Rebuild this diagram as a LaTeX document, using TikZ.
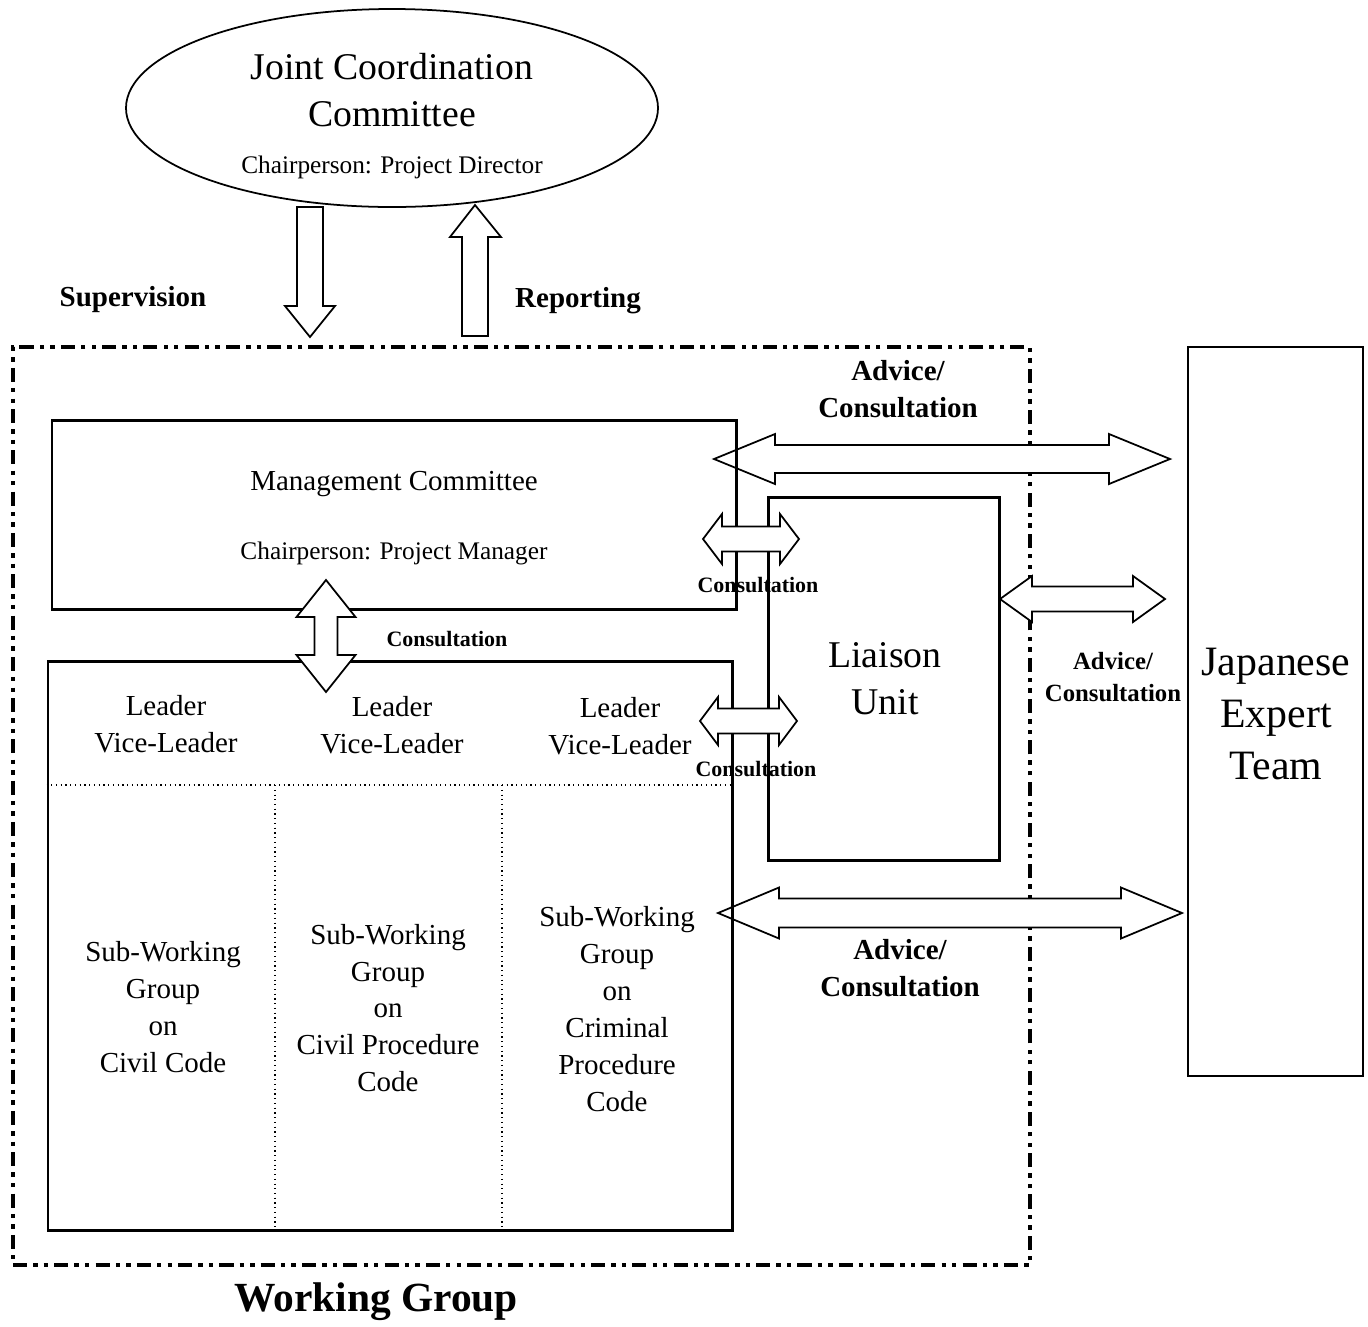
\documentclass[tikz,border=0pt]{standalone}
\usepackage{fontspec}
\setmainfont{Liberation Serif}
\usetikzlibrary{shapes.geometric}

\newcommand{\pxu}{0.02cm}

\tikzset{
  box/.style={draw, line width=1.7pt, inner sep=0pt},
  thinbox/.style={draw, line width=1pt, inner sep=0pt},
  outerline/.style={draw, line width=2pt, inner sep=0pt,
    dash pattern=on 8pt off 3.5pt on 2.5pt off 3.5pt on 2.5pt off 3.5pt},
  blockarrow/.style={draw, fill=white, line width=1pt, line join=miter},
  divider/.style={line width=0.7pt, dotted},
  bigtext/.style={font=\fontsize{21.5}{26.6}\selectfont, align=center},
  bodytext/.style={font=\fontsize{16.5}{21}\selectfont, align=center},
  chairtext/.style={font=\fontsize{14.4}{17}\selectfont},
  boldtag/.style={font=\bfseries\fontsize{16.5}{21}\selectfont, align=center},
  smalltag/.style={font=\bfseries\fontsize{12.5}{15}\selectfont, align=center},
}

% horizontal double block arrow: left x, right x, y, half shaft, half head, head length
\newcommand{\dblharrow}[6]{%
  \draw[blockarrow] (#1,#3) -- ({#1+#6},{#3-#5}) -- ({#1+#6},{#3-#4})
    -- ({#2-#6},{#3-#4}) -- ({#2-#6},{#3-#5}) -- (#2,#3)
    -- ({#2-#6},{#3+#5}) -- ({#2-#6},{#3+#4}) -- ({#1+#6},{#3+#4})
    -- ({#1+#6},{#3+#5}) -- cycle;}
% vertical double block arrow: x, top y, bottom y, half shaft, half head, head length
\newcommand{\dblvarrow}[6]{%
  \draw[blockarrow] (#1,#2) -- ({#1+#5},{#2+#6}) -- ({#1+#4},{#2+#6})
    -- ({#1+#4},{#3-#6}) -- ({#1+#5},{#3-#6}) -- (#1,#3)
    -- ({#1-#5},{#3-#6}) -- ({#1-#4},{#3-#6}) -- ({#1-#4},{#2+#6})
    -- ({#1-#5},{#2+#6}) -- cycle;}

\begin{document}
\begin{tikzpicture}[x=0.02cm, y=-0.02cm]
  \useasboundingbox (0,0) rectangle (1368,1326);

  % committee on top
  \node[draw, ellipse, line width=1pt, minimum width=532*\pxu, minimum height=198*\pxu] (jcc) at (392,108) {};
  \node[bigtext] (jcctitle) at (392,90) {Joint Coordination\\Committee};
  \node[chairtext] (jccchair) at (392,167) {Chairperson: Project Director};

  % supervision / reporting
  \draw[blockarrow] (297,207) -- (323,207) -- (323,306) -- (335,306) -- (310,337)
    -- (285,306) -- (297,306) -- cycle;
  \draw[blockarrow] (462,336) -- (488,336) -- (488,237) -- (501,237) -- (475,205)
    -- (450,237) -- (462,237) -- cycle;
  \node[boldtag] (sup) at (133,300) {Supervision};
  \node[boldtag] (rep) at (578,301) {Reporting};

  % working group frame
  \node[outerline, minimum width=1017*\pxu, minimum height=918*\pxu] (wgframe) at (521.5,806) {};
  \node[font=\bfseries\fontsize{23.6}{28}\selectfont] (wgname) at (376,1302) {Working Group};

  % advice lines to the expert team
  \dblharrow{714}{1170}{459}{14}{25}{61}
  \dblharrow{1000}{1165}{599}{12.5}{23}{32}
  \dblharrow{718}{1182}{913}{14.5}{25.5}{61}
  \node[boldtag] (adv1) at (898,389) {Advice/\\Consultation};
  \node[font=\bfseries\fontsize{14.1}{18}\selectfont, align=center] (adv2) at (1113,677) {Advice/\\Consultation};
  \node[boldtag] (adv3) at (900,968) {Advice/\\Consultation};

  % consultation labels
  \node[smalltag] (con1) at (758,585) {Consultation};
  \node[smalltag] (con2) at (447,639) {Consultation};
  \node[smalltag] (con3) at (756,769) {Consultation};

  % boxes
  \node[box, minimum width=684*\pxu, minimum height=189*\pxu] (mgmt) at (394,514.5) {};
  \node[box, minimum width=684*\pxu, minimum height=569*\pxu] (wg) at (390,945.5) {};
  \node[box, minimum width=231*\pxu, minimum height=363*\pxu] (liaison) at (883.5,678.5) {};
  \node[thinbox, minimum width=175*\pxu, minimum height=729*\pxu] (jet) at (1275.5,711.5) {};

  \draw[divider] (wg.west |- 0,785) -- (wg.east |- 0,785);
  \draw[divider] (275,785) -- (275,785 |- wg.south);
  \draw[divider] (502,785) -- (502,785 |- wg.south);

  % consultation arrows
  \dblharrow{703}{799}{539}{12.5}{25}{19}
  \dblharrow{700}{797}{721}{12.5}{24}{18}
  \dblvarrow{326}{580}{692}{11.5}{29.5}{37}

  % texts
  \node[bodytext] (mgmtname) at (394,484) {Management Committee};
  \node[chairtext] (mgmtchair) at (394,553) {Chairperson: Project Manager};

  \node[bodytext] (lead1) at (166,724) {Leader\\Vice-Leader};
  \node[bodytext] (lead2) at (392,725) {Leader\\Vice-Leader};
  \node[bodytext] (lead3) at (620,726) {Leader\\Vice-Leader};

  \node[bodytext] (swg1) at (163,1007) {Sub-Working\\Group\\on\\Civil Code};
  \node[bodytext] (swg2) at (388,1008) {Sub-Working\\Group\\on\\Civil Procedure\\Code};
  \node[bodytext] (swg3) at (617,1009) {Sub-Working\\Group\\on\\Criminal\\Procedure\\Code};

  \node[bigtext] (liaisonname) at (885,679) {Liaison\\Unit};
  \node[font=\fontsize{23.8}{29.5}\selectfont, align=center] (jetname) at (1276,714) {Japanese\\Expert\\Team};
\end{tikzpicture}
\end{document}
